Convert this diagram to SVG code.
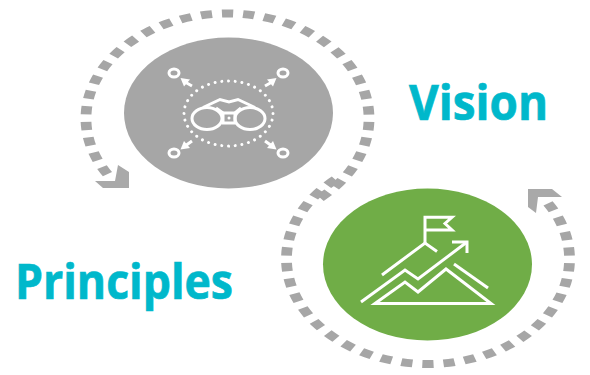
<svg xmlns="http://www.w3.org/2000/svg" width="590" height="375" viewBox="0 0 590 375">
<style>
.ring{fill:none;stroke:#a6a6a6;stroke-width:8;stroke-dasharray:.53 .47}
.head{fill:#a9a9a9}
.ln{fill:none;stroke:#fff;stroke-width:3}
.dots{fill:none;stroke:#fff;stroke-width:3;stroke-linecap:round;stroke-dasharray:.001 .999}
.lbl{font-family:"Open Sans","Noto Sans",sans-serif;font-weight:700;font-size:47.5px;fill:#00b8cb;stroke:#00b8cb;stroke-width:.7}
</style>
<rect width="590" height="375" fill="#fff"/>
<g id="connectors">
<path class="ring" pathLength="30.5" transform="translate(227.5 118.5) scale(1.348 1)" d="M-89.05 55.64A105 105 0 1 1 68.74 79.37"/>
<polygon class="head" points="95,181 115,181 118,165 129,172 129,188 103,188"/>
<path class="ring" pathLength="30.5" transform="translate(428 259) rotate(180) scale(1.348 1)" d="M-89.05 55.64A105 105 0 1 1 68.74 79.37"/>
<polygon class="head" points="528,189 552,189 562,197 538,197 536,213 528,207"/>
</g>
<g id="vision-node">
<ellipse cx="228.5" cy="113" rx="104.5" ry="75.5" fill="#a6a6a6"/>
<ellipse class="dots" pathLength="36" cx="228.5" cy="113.5" rx="44.5" ry="32.5"/>
<ellipse class="ln" cx="207" cy="118.5" rx="15" ry="11"/>
<ellipse class="ln" cx="250" cy="118.5" rx="15" ry="11"/>
<path class="ln" d="M203 107.500L220 99.500L229 102L238 99.500L255 107.500M216 108L223 113M241 108L235 113"/>
<rect class="ln" x="223" y="113" width="12" height="10"/>
<circle cx="229" cy="118" r="1.500" fill="#fff"/>
<g class="ln">
<ellipse cx="174" cy="73" rx="5" ry="4"/><ellipse cx="283" cy="73" rx="5" ry="4"/><ellipse cx="174" cy="153" rx="5" ry="4"/><ellipse cx="283" cy="153" rx="5" ry="4"/>
<path d="M192 86L185 82M265 86L272 82M192 141L185 146M265 141L272 146"/>
</g>
<g fill="#fff"><path d="M180.500 78L190 79.500L184 86.500Z"/><path d="M276.500 78L267 79.500L273 86.500Z"/><path d="M180.500 149.500L190 148L184 141Z"/><path d="M276.500 149.500L267 148L273 141Z"/></g>
</g>
<g id="principles-node">
<ellipse cx="427.500" cy="264.500" rx="104.500" ry="76" fill="#70ad47"/>
<g class="ln">
<path d="M425 243V217.300H452L445 223.500L452 230H425"/>
<path d="M382 275L425 243L437 251.500"/>
<path d="M361 302L405 270L418 279L467 242"/>
<path d="M452 242H467V253"/>
<path d="M375 303.500L405 282L418 292L446 269L491 303.500Z"/>
<path d="M454 264L488 288"/>
</g>
</g>
<text class="lbl" x="409" y="120" textLength="139" lengthAdjust="spacingAndGlyphs">Vision</text>
<text class="lbl" x="15" y="299" textLength="218" lengthAdjust="spacingAndGlyphs">Principles</text>
</svg>
